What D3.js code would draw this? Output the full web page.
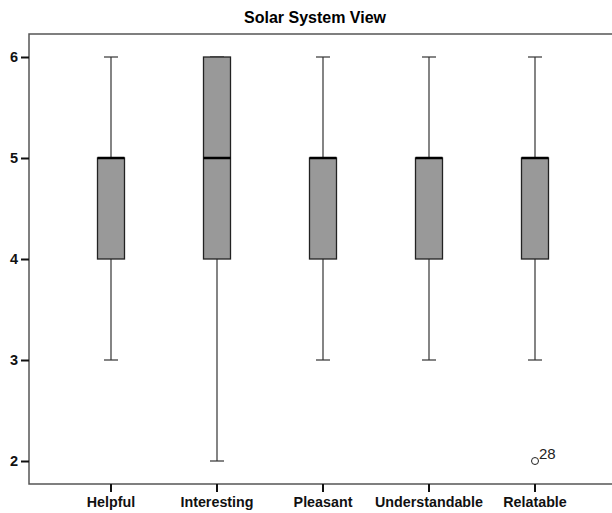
<!DOCTYPE html>
<html>
<head>
<meta charset="utf-8">
<script src="https://cdn.jsdelivr.net/npm/d3@7"></script>
<style>
  html, body { margin: 0; padding: 0; background: #fff; }
  svg { display: block; font-family: Arial, "Liberation Sans", sans-serif; }
</style>
</head>
<body>
<svg id="chart" width="612" height="513"></svg>
<script>
// Rating items and their five-number summaries
const categories = ["Helpful", "Interesting", "Pleasant", "Understandable", "Relatable"];
const mins    = [3, 2, 3, 3, 3];
const q1s     = [4, 4, 4, 4, 4];
const medians = [5, 5, 5, 5, 5];
const q3s     = [5, 6, 5, 5, 5];
const maxs    = [6, 6, 6, 6, 6];
// Outliers: [category, value, case label]
const outliers = [["Relatable", 2, "28"]];
const yTicks = [2, 3, 4, 5, 6];

const svg = d3.select("#chart");
const frame = { left: 29, top: 34, right: 640, bottom: 484 };

const x = d3.scaleBand().domain(categories).range([58, 588]);
const y = d3.scaleLinear().domain([2, 6]).range([461, 57]);
const boxW = 27, capW = 14;
const font = "Arial, 'Liberation Sans', sans-serif";

// Title
svg.append("text")
  .attr("x", 315).attr("y", 23)
  .attr("text-anchor", "middle")
  .attr("font-size", 16).attr("font-weight", "bold")
  .text("Solar System View");

// Plot frame
svg.append("rect")
  .attr("x", frame.left).attr("y", frame.top)
  .attr("width", frame.right - frame.left).attr("height", frame.bottom - frame.top)
  .attr("fill", "none").attr("stroke", "#555").attr("stroke-width", 1.5);

// Y axis
const yAxis = svg.append("g")
  .attr("transform", `translate(${frame.left},0)`)
  .call(d3.axisLeft(y).tickValues(yTicks).tickFormat(d3.format("d")).tickSize(8).tickPadding(3));
yAxis.select(".domain").remove();
yAxis.selectAll("line").attr("stroke", "#111").attr("stroke-width", 2);
yAxis.selectAll("text").attr("font-size", 14.5).attr("font-weight", "bold").attr("fill", "#111")
  .attr("font-family", font);

// X axis
const xAxis = svg.append("g")
  .attr("transform", `translate(0,${frame.bottom})`)
  .call(d3.axisBottom(x).tickSize(8).tickPadding(5));
xAxis.select(".domain").remove();
xAxis.selectAll("line").attr("stroke", "#111").attr("stroke-width", 2);
xAxis.selectAll("text").attr("font-size", 14.3).attr("font-weight", "bold").attr("fill", "#111")
  .attr("font-family", font);

// Boxes
const data = categories.map((c, i) => ({
  c, min: mins[i], q1: q1s[i], med: medians[i], q3: q3s[i], max: maxs[i]
}));
const g = svg.append("g").selectAll("g").data(data).join("g")
  .attr("transform", d => `translate(${x(d.c) + x.bandwidth() / 2},0)`);

// Whiskers
g.append("line").attr("x1", 0).attr("x2", 0)
  .attr("y1", d => y(d.q3)).attr("y2", d => y(d.max))
  .attr("stroke", "#333").attr("stroke-width", 1.2);
g.append("line").attr("x1", 0).attr("x2", 0)
  .attr("y1", d => y(d.q1)).attr("y2", d => y(d.min))
  .attr("stroke", "#333").attr("stroke-width", 1.2);
g.append("line").attr("x1", -capW / 2).attr("x2", capW / 2)
  .attr("y1", d => y(d.max)).attr("y2", d => y(d.max))
  .attr("stroke", "#333").attr("stroke-width", 1.2);
g.append("line").attr("x1", -capW / 2).attr("x2", capW / 2)
  .attr("y1", d => y(d.min)).attr("y2", d => y(d.min))
  .attr("stroke", "#333").attr("stroke-width", 1.2);

// Box body
g.append("rect")
  .attr("x", -boxW / 2).attr("width", boxW)
  .attr("y", d => y(d.q3)).attr("height", d => y(d.q1) - y(d.q3))
  .attr("fill", "#999").attr("stroke", "#222").attr("stroke-width", 1.3);

// Median
g.append("line").attr("x1", -boxW / 2).attr("x2", boxW / 2)
  .attr("y1", d => y(d.med)).attr("y2", d => y(d.med))
  .attr("stroke", "#000").attr("stroke-width", 2.5);

// Outliers
const og = svg.append("g").selectAll("g").data(outliers).join("g")
  .attr("transform", d => `translate(${x(d[0]) + x.bandwidth() / 2},${y(d[1])})`);
og.append("circle").attr("r", 3.5).attr("fill", "#fff").attr("stroke", "#222").attr("stroke-width", 1);
og.append("text").attr("x", 4).attr("y", -2)
  .attr("font-size", 15).attr("fill", "#222").attr("font-family", font).text(d => d[2]);
</script>
</body>
</html>
